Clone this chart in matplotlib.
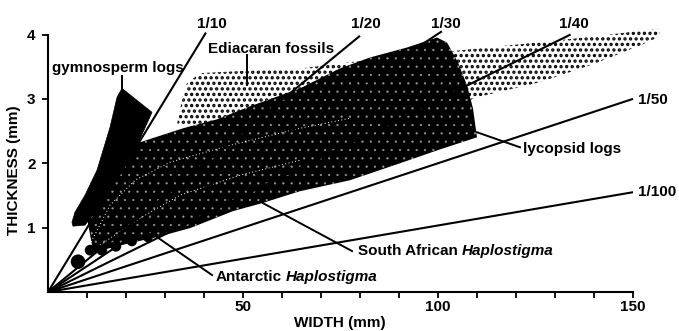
import matplotlib
matplotlib.use("Agg")
import matplotlib.pyplot as plt
from matplotlib.patches import Polygon
import matplotlib.transforms as mtransforms

plt.rcParams['font.family'] = ['Liberation Sans', 'DejaVu Sans']
plt.rcParams['font.weight'] = 'bold'
plt.rcParams['hatch.linewidth'] = 1.6

# ---------------- data ----------------
ratio_labels = ['1/10', '1/20', '1/30', '1/40', '1/50', '1/100']
ratio_end_width = [40.5, 80.0, 101.0, 134.0, 150.0, 150.0]
ratio_end_thick = [4.03, 3.98, 4.05, 4.00, 3.00, 1.55]

# Ediacaran fossils outline (width mm, thickness mm)
edia_w = [33.1, 34.4, 35.6, 39.0, 51.8, 64.6, 77.4, 90.3, 104.9, 126.2, 141.5,
          156.2, 156.9, 156.2, 151.8, 140.3, 126.2, 109.0, 105.0, 90.0, 60.0, 40.0]
edia_t = [2.62, 2.98, 3.24, 3.40, 3.44, 3.47, 3.57, 3.64, 3.75, 3.88, 3.98,
          4.09, 4.03, 3.95, 3.83, 3.55, 3.26, 3.01, 2.80, 2.60, 2.60, 2.50]

# lycopsid logs outline
lyco_w = [11.28, 10.0, 12.05, 15.90, 19.74, 23.59, 34.62, 43.33, 51.79, 64.62,
          74.87, 82.56, 92.05, 99.74, 102.31, 105.13, 107.44, 108.97, 110.0,
          100.51, 90.26, 77.44, 64.62, 54.87, 47.44, 36.41, 27.95, 21.03, 15.90, 12.05]
lyco_t = [0.729, 1.147, 1.426, 1.736, 2.047, 2.326, 2.543, 2.682, 2.884, 3.163,
          3.473, 3.643, 3.798, 3.953, 3.876, 3.566, 3.209, 2.853, 2.403,
          2.215, 2.000, 1.736, 1.566, 1.380, 1.256, 0.992, 0.853, 0.760, 0.682, 0.620]

# gymnosperm logs outline
gymno_w = [18.97, 26.67, 23.08, 13.33, 9.49, 6.41, 6.15, 6.92, 9.49, 12.56, 15.90, 17.69]
gymno_t = [3.163, 2.791, 2.310, 1.349, 1.039, 1.023, 1.085, 1.240, 1.504, 1.891, 2.558, 3.023]

# South African Haplostigma boundaries (dotted, inside the lycopsid field)
safr_a_w = [10.26, 15.90, 22.31, 31.28, 46.67, 64.62, 77.44]
safr_a_t = [0.682, 1.349, 1.736, 2.016, 2.279, 2.543, 2.698]
safr_b_w = [13.33, 23.59, 33.85, 49.23, 64.62]
safr_b_t = [0.729, 1.147, 1.504, 1.814, 2.047]

# Antarctic Haplostigma specimens
ant_w = [7.7, 10.8, 13.8, 17.4, 21.5, 25.6]
ant_t = [0.47, 0.65, 0.65, 0.71, 0.79, 0.85]

x_ticks = [10, 20, 30, 40, 50, 60, 70, 80, 90, 100, 110, 120, 130, 140, 150]
x_ticklabels = ['', '', '', '', '50', '', '', '', '', '100', '', '', '', '', '150']
y_ticks = [1, 2, 3, 4]
y_ticklabels = ['1', '2', '3', '4']

# ---------------- figure ----------------
FS = 11
fig = plt.figure(figsize=(6.79, 3.31), dpi=100)
ax = fig.add_axes([48 / 679, 1 - 292 / 331, (633 - 48) / 679, (292 - 34.5) / 331])
ax.set_xlim(0, 150)
ax.set_ylim(0, 4)
for s in ('top', 'right'):
    ax.spines[s].set_visible(False)
for s in ('left', 'bottom'):
    ax.spines[s].set_linewidth(1.5)
ax.set_xticks(x_ticks, x_ticklabels)
ax.set_yticks(y_ticks, y_ticklabels)
ax.tick_params(axis='x', direction='out', length=4, width=1.3, pad=1.5, labelsize=FS)
ax.tick_params(axis='y', direction='out', length=4, width=1.3, pad=5, labelsize=FS)

# Ediacaran stipple
ax.add_patch(Polygon(list(zip(edia_w, edia_t)), closed=True, facecolor='white',
                     edgecolor='black', hatch='...', linewidth=0, zorder=1, clip_on=False))
# lycopsid field (dense dark stipple)
lyco = Polygon(list(zip(lyco_w, lyco_t)), closed=True, facecolor='black',
               edgecolor='#9a9a9a', hatch='..', linewidth=0, zorder=2)
if hasattr(lyco, 'set_hatch_linewidth'):
    lyco.set_hatch_linewidth(0.35)
else:
    lyco.set_hatch(None)
ax.add_patch(lyco)
# gymnosperm logs
ax.add_patch(Polygon(list(zip(gymno_w, gymno_t)), closed=True, facecolor='black',
                     edgecolor='black', linewidth=0.5, zorder=3))
# South African Haplostigma dotted boundaries
ax.plot(safr_a_w, safr_a_t, color='white', lw=0.7, ls=(0, (1, 2.5)), zorder=3.5)
ax.plot(safr_b_w, safr_b_t, color='white', lw=0.7, ls=(0, (1, 2.5)), zorder=3.5)
# Antarctic Haplostigma
ax.scatter(ant_w, ant_t, s=[110, 60, 60, 60, 55, 50], color='black', zorder=4,
           linewidths=0)

# ratio lines
for xe, ye in zip(ratio_end_width, ratio_end_thick):
    ax.plot([0, xe], [0, ye], color='black', lw=1.5, clip_on=False,
            solid_capstyle='butt', zorder=5)

# ratio labels
lab_pos = [(42.05, 4.16, 'center'), (81.5, 4.16, 'center'), (102.0, 4.17, 'center'),
           (134.9, 4.17, 'center'), (151.3, 2.99, 'left'), (151.3, 1.55, 'left')]
for lab, (lx, ly, ha) in zip(ratio_labels, lab_pos):
    ax.text(lx, ly, lab, ha=ha, va='center', fontsize=FS, clip_on=False, zorder=6)

# leaders
leaders = [((18.97, 3.35), (18.97, 3.163)),
           ((51.03, 3.674), (51.03, 3.209)),
           ((110.0, 2.481), (121.03, 2.248)),
           ((77.95, 0.636), (55.13, 1.380)),
           ((42.05, 0.264), (27.95, 0.853))]
for (x0, y0), (x1, y1) in leaders:
    ax.plot([x0, x1], [y0, y1], color='black', lw=1.4, zorder=5.5, clip_on=False)

ax.text(17.95, 3.48, 'gymnosperm logs', ha='center', va='center', fontsize=FS, zorder=6)
ax.text(57.18, 3.767, 'Ediacaran fossils', ha='center', va='center', fontsize=FS, zorder=6)
ax.text(121.8, 2.217, 'lycopsid logs', ha='left', va='center', fontsize=FS, zorder=6)


def mixed(x, y, normal, italic):
    t = ax.text(x, y, normal, ha='left', va='center', fontsize=FS, zorder=6)
    fig.canvas.draw()
    w = t.get_window_extent().width + 4
    tr = mtransforms.offset_copy(ax.transData, fig=fig, x=w, y=0, units='dots')
    ax.text(x, y, italic, ha='left', va='center', fontsize=FS, style='italic',
            transform=tr, zorder=6)


mixed(79.49, 0.636, 'South African', 'Haplostigma')
mixed(43.08, 0.233, 'Antarctic', 'Haplostigma')

fig.text(340 / 679, 1 - 323 / 331, 'WIDTH (mm)', ha='center', va='center', fontsize=FS)
fig.text(14 / 679, 1 - 170 / 331, 'THICKNESS (mm)', ha='center', va='center',
         rotation=90, fontsize=FS)

fig.savefig('out.png', dpi=100)
